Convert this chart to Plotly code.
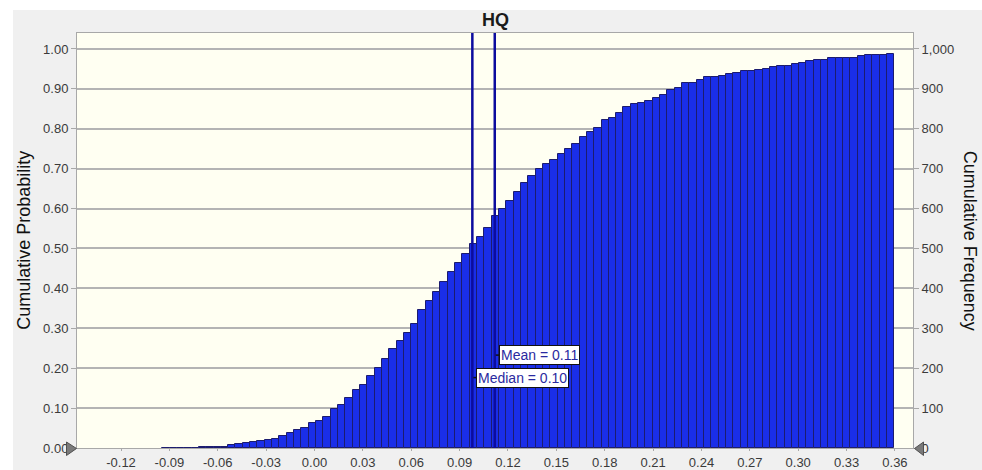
import plotly.graph_objects as go

# ---- data ----
bin_start = -0.0944
bin_width = 0.00454
cum_counts = [1, 1, 1, 1, 1, 2, 2, 3, 3, 7,
              10, 12, 15, 17, 21, 23, 29, 37, 45, 49,
              62, 68, 77, 97, 108, 125, 145, 158, 180, 201,
              223, 247, 267, 289, 312, 345, 368, 392, 417, 442,
              463, 487, 511, 528, 551, 581, 598, 619, 641, 664,
              682, 698, 711, 723, 738, 750, 761, 780, 791, 802,
              821, 826, 840, 854, 861, 865, 870, 878, 884, 898,
              902, 914, 914, 923, 930, 930, 932, 937, 941, 946,
              946, 948, 951, 954, 957, 958, 962, 965, 969, 972,
              973, 977, 977, 977, 977, 982, 984, 984, 984, 987]
mean_val = 0.1118
median_val = 0.0979
x_ticks = [-0.12, -0.09, -0.06, -0.03, 0.00, 0.03, 0.06, 0.09, 0.12, 0.15,
           0.18, 0.21, 0.24, 0.27, 0.30, 0.33, 0.36]
x_tick_labels = ["-0.12", "-0.09", "-0.06", "-0.03", "0.00", "0.03", "0.06", "0.09", "0.12",
                 "0.15", "0.18", "0.21", "0.24", "0.27", "0.30", "0.33", "0.36"]
prob_ticks = [0.0, 0.1, 0.2, 0.3, 0.4, 0.5, 0.6, 0.7, 0.8, 0.9, 1.0]
freq_ticks = [0, 100, 200, 300, 400, 500, 600, 700, 800, 900, 1000]
title_text = "HQ"
left_title = "Cumulative Probability"
right_title = "Cumulative Frequency"

# ---- layout geometry (page pixels) ----
W, H = 982, 470
L, R, T, B = 77, 913, 33, 448.5
pw, ph = R - L, B - T


def px(x):
    return (x - L) / pw


def py(y):
    return (B - y) / ph


centers = [bin_start + bin_width * (i + 0.5) for i in range(len(cum_counts))]

fig = go.Figure()
fig.add_trace(go.Scatter(x=[centers[0]], y=[0], mode="markers",
                         marker=dict(opacity=0), showlegend=False, hoverinfo="skip",
                         yaxis="y"))
fig.add_trace(go.Bar(x=centers, y=cum_counts, width=bin_width,
                     marker=dict(color="#1a2ee8", line=dict(color="#1c1c6e", width=1)),
                     yaxis="y2", showlegend=False))

font_family = "Liberation Sans, Arial, sans-serif"
tick_font = dict(family=font_family, size=13, color="#3a3a3a")

shapes = [
    # white strips outside the grey panel
    dict(type="rect", xref="paper", yref="paper", x0=px(-5), x1=px(W + 5), y0=py(10), y1=py(-5),
         fillcolor="white", line=dict(width=0), layer="below"),
    dict(type="rect", xref="paper", yref="paper", x0=px(-5), x1=px(13), y0=py(H + 5), y1=py(-5),
         fillcolor="white", line=dict(width=0), layer="below"),
    dict(type="line", xref="x", yref="paper", x0=median_val, x1=median_val, y0=0, y1=1,
         line=dict(color="#0c0c9e", width=2.5), layer="above"),
    dict(type="line", xref="x", yref="paper", x0=mean_val, x1=mean_val, y0=0, y1=1,
         line=dict(color="#0c0c9e", width=2.5), layer="above"),
    dict(type="path", xref="paper", yref="paper",
         path=f"M {px(66.5)} {py(442.5)} L {px(76.5)} {py(449)} L {px(66.5)} {py(456)} Z",
         fillcolor="#7a7a7a", line=dict(color="#505050", width=1), layer="above"),
    dict(type="path", xref="paper", yref="paper",
         path=f"M {px(923.5)} {py(442.5)} L {px(914.5)} {py(449)} L {px(923.5)} {py(456)} Z",
         fillcolor="#7a7a7a", line=dict(color="#505050", width=1), layer="above"),
]
# small connector ticks from the lines to the labels
for val, ypix in ((mean_val, 355.5), (median_val, 378)):
    shapes.append(dict(type="line", xref="x", yref="paper", xsizemode="pixel", xanchor=val,
                       x0=1, x1=5, y0=py(ypix), y1=py(ypix),
                       line=dict(color="#111111", width=1.5), layer="above"))

label_font = dict(family=font_family, size=14, color="#2a2aa0")
annotations = [
    dict(text=f"Mean = {mean_val:.2f}", x=mean_val, y=py(355.5), xref="x", yref="paper",
         xanchor="left", yanchor="middle", xshift=4, showarrow=False, font=label_font,
         bgcolor="white", bordercolor="#111111", borderwidth=1, borderpad=1),
    dict(text=f"Median = {median_val:.2f}", x=median_val, y=py(378), xref="x", yref="paper",
         xanchor="left", yanchor="middle", xshift=4, showarrow=False, font=label_font,
         bgcolor="white", bordercolor="#111111", borderwidth=1, borderpad=1),
    dict(text=left_title, x=px(24), y=py(241), xref="paper", yref="paper", textangle=-90,
         xanchor="center", yanchor="middle",
         showarrow=False, font=dict(family=font_family, size=18, color="#111111")),
    dict(text=right_title, x=px(970), y=py(241), xref="paper", yref="paper", textangle=90,
         xanchor="center", yanchor="middle",
         showarrow=False, font=dict(family=font_family, size=18, color="#111111")),
    dict(text=f"<b>{title_text}</b>", x=0.5, y=py(20), xref="paper", yref="paper",
         xanchor="center", yanchor="middle",
         showarrow=False, font=dict(family=font_family, size=18, color="#1a1a1a")),
]

fig.update_layout(
    width=W, height=H,
    margin=dict(l=L, r=W - R, t=T, b=H - B, autoexpand=False),
    paper_bgcolor="#f0f0f0",
    plot_bgcolor="#fffff2",
    bargap=0,
    showlegend=False,
    shapes=shapes,
    annotations=annotations,
    xaxis=dict(range=[-0.1473, 0.3712], tickvals=x_ticks, ticktext=x_tick_labels,
               automargin=False,
               showgrid=False, zeroline=False, showline=True, linecolor="#a8a8a8", linewidth=1,
               mirror=True, ticks="outside", ticklen=2, tickcolor="#a8a8a8",
               tickfont=tick_font),
    yaxis=dict(range=[0, 1.04], tickvals=prob_ticks, tickformat=".2f", automargin=False,
               showgrid=True, gridcolor="#b4b4b4", gridwidth=1.5, zeroline=False,
               showline=True, linecolor="#a8a8a8", linewidth=1, mirror=True,
               ticks="outside", ticklen=5, tickcolor="#a8a8a8", tickfont=tick_font),
    yaxis2=dict(range=[0, 1040], tickvals=freq_ticks, tickformat=",d", overlaying="y",
                automargin=False,
                side="right", showgrid=False, zeroline=False, showline=False,
                ticks="outside", ticklen=5, tickcolor="#a8a8a8", tickfont=tick_font),
)

fig.write_html(
    "out.html",
    config={"displayModeBar": False},
    post_script="document.body.style.margin='0';document.body.style.overflow='hidden';",
)
